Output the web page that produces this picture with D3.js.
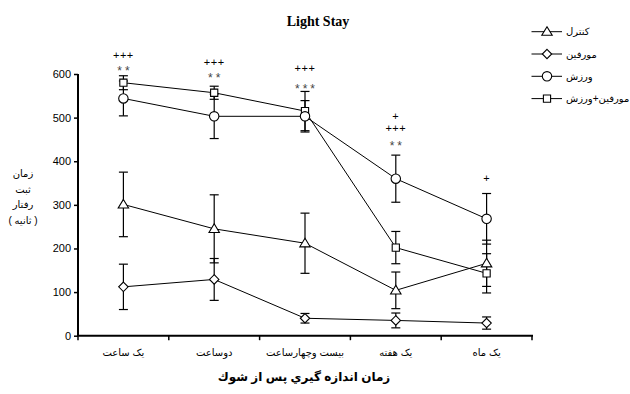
<!DOCTYPE html>
<html>
<head>
<meta charset="utf-8">
<script src="https://cdn.jsdelivr.net/npm/d3@7"></script>
<style>
  html, body { margin: 0; padding: 0; background: #fff; }
  svg { display: block; }
  text { font-family: "Liberation Sans", Arial, "DejaVu Sans", sans-serif; fill: #000; }
</style>
</head>
<body>
<svg id="chart" width="630" height="394"></svg>
<script>
// Time after shock (categories on the x axis)
const categories = ["یک ساعت", "دوساعت", "بیست وچهارساعت", "یک هفته", "یک ماه"];

// Group names, in legend order
const seriesNames = ["کنترل", "مورفین", "ورزش", "مورفین+ورزش"];

// Mean time (s) per group and its SEM
const controlMean   = [301, 245, 212, 104, 166];
const controlSem    = [74, 78, 69, 42, 53];
const morphineMean  = [112, 129, 40, 35, 29];
const morphineSem   = [52, 48, 11, 17, 14];
const exerciseMean  = [544, 503, 503, 360, 268];
const exerciseSem   = [40, 51, 36, 54, 58];
const comboMean     = [580, 557, 515, 202, 143];
const comboSem      = [16, 15, 45, 37, 45];

// Y axis ticks
const yTicks = [0, 100, 200, 300, 400, 500, 600];

// Significance marks above each time point (text and the value level they sit at)
const sigCategory = [0, 0, 1, 1, 2, 2, 3, 3, 3, 4];
const sigText     = ["+++", "**", "+++", "**", "+++", "***", "+", "+++", "**", "+"];
const sigLevel    = [643, 616, 628, 598, 613, 574, 504, 476, 443, 361];

const series = [
  { name: seriesNames[0], mean: controlMean,  sem: controlSem,  shape: "triangle" },
  { name: seriesNames[1], mean: morphineMean, sem: morphineSem, shape: "diamond" },
  { name: seriesNames[3], mean: comboMean,    sem: comboSem,    shape: "square" },
  { name: seriesNames[2], mean: exerciseMean, sem: exerciseSem, shape: "circle" }
];

const svg = d3.select("#chart");

const x = d3.scaleBand().domain(categories).range([78, 532]);
const y = d3.scaleLinear().domain([0, 600]).range([335.7, 74]);
const cx = c => x(c) + x.bandwidth() / 2;

// Marker outlines
function markerPath(shape) {
  switch (shape) {
    case "triangle": return "M0,-5L5.2,3.6L-5.2,3.6Z";
    case "diamond":  return "M0,-4.7L4.7,0L0,4.7L-4.7,0Z";
    case "square":   return "M-3.6,-3.6H3.6V3.6H-3.6Z";
    default:         return d3.symbol(d3.symbolCircle, Math.PI * 4.7 * 4.7)();
  }
}

// Title
svg.append("text")
  .attr("x", 318).attr("y", 26)
  .attr("text-anchor", "middle")
  .style("font-family", "'Liberation Serif', 'Times New Roman', serif")
  .style("font-weight", "bold")
  .style("font-size", "14px")
  .text("Light Stay");

// Y axis
const yAxis = svg.append("g")
  .attr("transform", "translate(78,0)")
  .call(d3.axisLeft(y).tickValues(yTicks).tickSize(4).tickPadding(3).tickFormat(d3.format("d")));
yAxis.select(".domain").attr("stroke-width", 2).attr("d", `M0,${y(600)}V${y(0)}`);
yAxis.selectAll(".tick line").attr("stroke-width", 1.5);
yAxis.selectAll(".tick text").style("font-size", "11px").style("font-family", "'Liberation Sans', Arial, sans-serif");

// X axis: ticks at the band edges
const edges = categories.map(c => x(c)).concat([x.range()[1]]);
const xAxis = svg.append("g").attr("transform", `translate(0,${y(0)})`);
xAxis.append("line")
  .attr("x1", 77).attr("x2", 533)
  .attr("stroke", "#000").attr("stroke-width", 2);
xAxis.selectAll("line.tk").data(edges).join("line")
  .attr("class", "tk")
  .attr("x1", d => d).attr("x2", d => d)
  .attr("y1", 0).attr("y2", 4.5)
  .attr("stroke", "#000").attr("stroke-width", 1.5);
xAxis.selectAll("text.cat").data(categories).join("text")
  .attr("class", "cat")
  .attr("x", d => cx(d))
  .attr("y", 20)
  .attr("text-anchor", "middle")
  .style("font-size", "10px")
  .text(d => d);

// X axis title
svg.append("text")
  .attr("x", 304).attr("y", 381)
  .attr("text-anchor", "middle")
  .style("font-size", "12px")
  .style("font-weight", "bold")
  .text("زمان اندازه گيري پس از شوك");

// Y axis title, stacked words
const yTitle = ["زمان", "ثبت", "رفتار", "( ثانیه )"];
svg.selectAll("text.ytitle").data(yTitle).join("text")
  .attr("class", "ytitle")
  .attr("x", 23)
  .attr("y", (d, i) => 177 + i * 15.5)
  .attr("text-anchor", "middle")
  .style("font-size", "10px")
  .text(d => d);

const plot = svg.append("g");

// Connecting lines
const line = d3.line().x((d, i) => cx(categories[i])).y(d => y(d));
series.forEach(s => {
  plot.append("path")
    .attr("d", line(s.mean))
    .attr("fill", "none")
    .attr("stroke", "#000")
    .attr("stroke-width", 1);
});

// Error bars (mean ± SEM)
series.forEach(s => {
  const g = plot.append("g").attr("stroke", "#000").attr("stroke-width", 1.2);
  s.mean.forEach((m, i) => {
    const px = cx(categories[i]);
    const hi = y(m + s.sem[i]), lo = y(m - s.sem[i]);
    g.append("line").attr("x1", px).attr("x2", px).attr("y1", hi).attr("y2", lo);
    g.append("line").attr("x1", px - 4.5).attr("x2", px + 4.5).attr("y1", hi).attr("y2", hi);
    g.append("line").attr("x1", px - 4.5).attr("x2", px + 4.5).attr("y1", lo).attr("y2", lo);
  });
});

// Markers
series.forEach(s => {
  plot.append("g").selectAll("path").data(s.mean).join("path")
    .attr("d", markerPath(s.shape))
    .attr("transform", (d, i) => `translate(${cx(categories[i])},${y(d)})`)
    .attr("fill", "#fff")
    .attr("stroke", "#000")
    .attr("stroke-width", 1.1);
});

// Significance marks
svg.selectAll("text.sig").data(sigText).join("text")
  .attr("class", "sig")
  .attr("x", (d, i) => cx(categories[sigCategory[i]]) + (d.startsWith("*") ? 1.5 : 0))
  .attr("y", (d, i) => y(sigLevel[i]) + (d.startsWith("*") ? 7.5 : 4))
  .attr("text-anchor", "middle")
  .style("font-size", d => d.startsWith("*") ? "12px" : "11px")
  .style("letter-spacing", d => d.startsWith("*") ? "3px" : "0.5px")
  .style("fill", d => d.startsWith("*") ? "#444" : "#000")
  .text(d => d);

// Legend
const legendOrder = [
  { name: seriesNames[0], shape: "triangle" },
  { name: seriesNames[1], shape: "diamond" },
  { name: seriesNames[2], shape: "circle" },
  { name: seriesNames[3], shape: "square" }
];
const legend = svg.append("g");
legendOrder.forEach((d, i) => {
  const ly = 31.7 + i * 22.3;
  legend.append("line")
    .attr("x1", 531.5).attr("x2", 562)
    .attr("y1", ly).attr("y2", ly)
    .attr("stroke", "#000").attr("stroke-width", 1);
  legend.append("path")
    .attr("d", markerPath(d.shape))
    .attr("transform", `translate(547,${ly})`)
    .attr("fill", "#fff").attr("stroke", "#000").attr("stroke-width", 1.1);
  legend.append("text")
    .attr("x", 566).attr("y", ly + 3.5)
    .style("font-size", "10px")
    .text(d.name);
});
</script>
</body>
</html>
